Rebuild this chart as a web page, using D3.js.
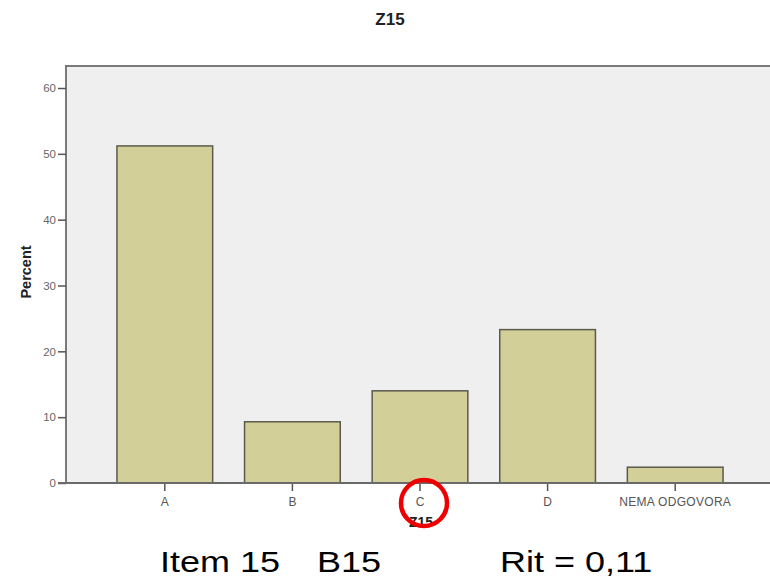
<!DOCTYPE html>
<html><head><meta charset="utf-8">
<script src="https://cdn.jsdelivr.net/npm/d3@7"></script>
<style>body{margin:0;background:#fff;}svg{display:block;}</style>
</head><body>
<svg id="c" width="770" height="580"></svg>
<script>
const categories = ["A", "B", "C", "D", "NEMA ODGOVORA"];
const percents = [51.2, 9.3, 14.0, 23.3, 2.4];
const yTicks = [0, 10, 20, 30, 40, 50, 60];
const chartTitle = "Z15";
const xTitle = "Z15";
const yTitle = "Percent";
const footItem = "Item 15";
const footCode = "B15";
const footRit = "Rit = 0,11";

const FONT = "Liberation Sans, Arial, sans-serif";
const svg = d3.select("#c");
const frame = {left: 66, top: 66, right: 772, bottom: 483};
const y = d3.scaleLinear().domain([0, 60]).range([483, 88]);
const xb = d3.scaleBand().domain(categories).range([101, 739]).paddingInner(0.25).paddingOuter(0.125);

svg.append("rect").attr("x", frame.left).attr("y", frame.top)
  .attr("width", frame.right - frame.left).attr("height", frame.bottom - frame.top)
  .attr("fill", "#efefef").attr("stroke", "#7a7a7a").attr("stroke-width", 2);

svg.selectAll("rect.bar").data(categories).enter().append("rect")
  .attr("class", "bar")
  .attr("x", d => xb(d))
  .attr("y", (d, i) => y(percents[i]))
  .attr("width", xb.bandwidth())
  .attr("height", (d, i) => y(0) - y(percents[i]))
  .attr("fill", "#d3cf98").attr("stroke", "#5b5b4c").attr("stroke-width", 1.5);

// y axis
const ya = svg.append("g").attr("transform", `translate(${frame.left},0)`)
  .call(d3.axisLeft(y).tickValues(yTicks).tickSize(8).tickPadding(2));
ya.select(".domain").remove();
ya.selectAll("line").attr("stroke", "#555").attr("stroke-width", 1.5);
ya.selectAll("text").attr("font-family", FONT).attr("font-size", 11.5).attr("fill", "#666");

// x axis
const xa = svg.append("g").attr("transform", `translate(0,${frame.bottom})`)
  .call(d3.axisBottom(xb).tickSize(8).tickPadding(6));
xa.select(".domain").remove();
xa.selectAll("line").attr("stroke", "#555").attr("stroke-width", 1.5);
xa.selectAll("text").attr("font-family", FONT).attr("font-size", 12).attr("fill", "#555")
  .attr("letter-spacing", d => d.length > 3 ? "0.3px" : "0");

// bottom axis line
svg.append("line").attr("x1", frame.left - 8).attr("x2", 770).attr("y1", frame.bottom).attr("y2", frame.bottom)
  .attr("stroke", "#6a6a6a").attr("stroke-width", 2);

// titles
svg.append("text").attr("x", 390).attr("y", 25).attr("text-anchor", "middle")
  .attr("font-family", FONT).attr("font-weight", "bold").attr("font-size", 17).attr("fill", "#222").text(chartTitle);
svg.append("text").attr("transform", "translate(31,272) rotate(-90)").attr("text-anchor", "middle")
  .attr("font-family", FONT).attr("font-weight", "bold").attr("font-size", 14.5).attr("fill", "#222").text(yTitle);
svg.append("text").attr("x", 421).attr("y", 527).attr("text-anchor", "middle")
  .attr("font-family", FONT).attr("font-weight", "bold").attr("font-size", 14).attr("fill", "#222").text(xTitle);

// red circle
svg.append("ellipse").attr("cx", xb("C") + xb.bandwidth()/2 + 4).attr("cy", 503).attr("rx", 23).attr("ry", 23)
  .attr("fill", "none").attr("stroke", "#ee0000").attr("stroke-width", 4.5);

// footer (horizontally stretched glyphs as in the reference)
const foot = [[footItem, 160], [footCode, 317], [footRit, 500]];
svg.selectAll("text.foot").data(foot).enter().append("text").attr("class", "foot")
  .attr("transform", d => `translate(${d[1]},572) scale(1.2,1)`)
  .attr("font-family", FONT).attr("font-size", 30).attr("fill", "#000")
  .text(d => d[0]);
</script>
</body></html>
